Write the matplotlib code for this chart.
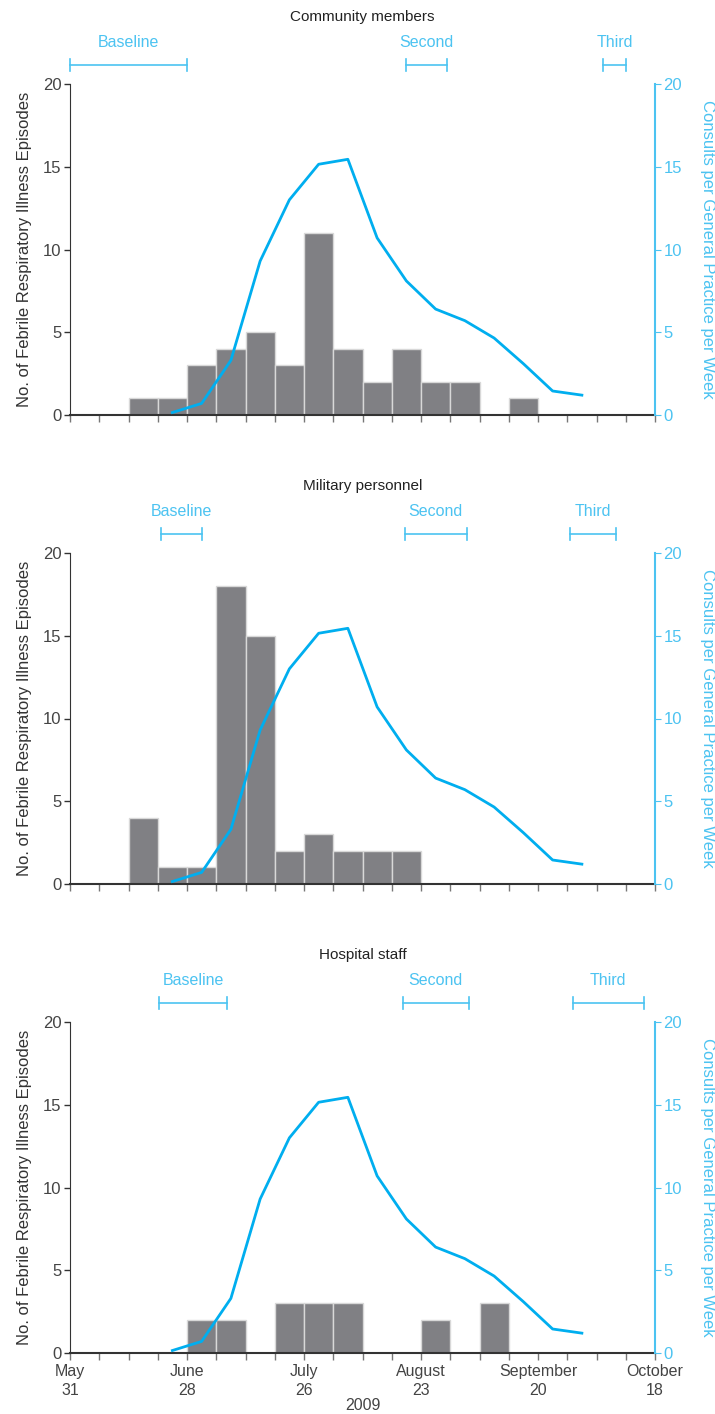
import numpy as np
import matplotlib
matplotlib.use("Agg")
import matplotlib.pyplot as plt
import matplotlib.transforms as mtransforms

plt.rcParams["font.family"] = ["Liberation Sans", "DejaVu Sans"]

# x positions are weeks since May 31, 2009
n_weeks = 20
tick_weeks = [0, 4, 8, 12, 16, 20]
tick_labels = ["May\n31", "June\n28", "July\n26", "August\n23", "September\n20", "October\n18"]

# febrile respiratory illness episodes per week (bar starts at week index)
community = [0, 0, 1, 1, 3, 4, 5, 3, 11, 4, 2, 4, 2, 2, 0, 1, 0, 0, 0, 0]
military = [0, 0, 4, 1, 1, 18, 15, 2, 3, 2, 2, 2, 0, 0, 0, 0, 0, 0, 0, 0]
hospital = [0, 0, 0, 0, 2, 2, 0, 3, 3, 3, 0, 0, 2, 0, 3, 0, 0, 0, 0, 0]

# GP consults per week (mid-week)
consult_weeks = [3.5, 4.5, 5.5, 6.5, 7.5, 8.5, 9.5, 10.5, 11.5, 12.5, 13.5, 14.5, 15.5, 16.5, 17.5]
consults = [0.15, 0.7, 3.3, 9.3, 13.0, 15.15, 15.45, 10.7, 8.1, 6.4, 5.7, 4.65, 3.1, 1.45, 1.2]

# serology windows (start week, end week)
community_windows = [(0.0, 4.0), (11.48, 12.88), (18.23, 19.01)]
military_windows = [(3.12, 4.51), (11.45, 13.56), (17.1, 18.67)]
hospital_windows = [(3.04, 5.38), (11.37, 13.64), (17.18, 19.62)]
window_names = ["Baseline", "Second", "Third"]

titles = ["Community members", "Military personnel", "Hospital staff"]

CYAN = "#00aeef"
CYAN_LT = "#4cc3f1"
BAR = "#808084"
DARK = "#333333"

fig = plt.figure(figsize=(7.15, 14.14), dpi=100)

left, width, height = 70 / 715, 585 / 715, 331 / 1414
bottoms = [1 - 415 / 1414, 1 - 884 / 1414, 1 - 1353 / 1414]

panels = [
    (community, community_windows),
    (military, military_windows),
    (hospital, hospital_windows),
]

for k, (counts, windows) in enumerate(panels):
    ax = fig.add_axes([left, bottoms[k], width, height])
    ax.bar(np.arange(n_weeks), counts, width=1.0, align="edge",
           color=BAR, edgecolor="#d8d8d8", linewidth=1.0, zorder=2)
    ax.set_xlim(0, n_weeks)
    ax.set_ylim(0, 20)
    ax.set_yticks([0, 5, 10, 15, 20])
    ax.set_xticks(np.arange(n_weeks + 1))
    ax.tick_params(axis="x", direction="out", length=5, color="#777777", width=1)
    ax.tick_params(axis="y", direction="out", length=4, color=DARK, width=1,
                   labelsize=12, labelcolor="#444444", pad=2)
    if k == 2:
        ax.set_xticks(tick_weeks, minor=False)
        ax.set_xticks(np.arange(n_weeks + 1), minor=True)
        ax.set_xticklabels(tick_labels, fontsize=11.5, color="#444444", linespacing=1.3)
        ax.tick_params(axis="x", which="both", direction="out", length=5,
                       color="#777777", width=1, pad=3)
        ax.text(0.5, -0.16, "2009", transform=ax.transAxes, ha="center", va="center",
                fontsize=11.5, color="#444444")
    else:
        ax.set_xticklabels([])
    for s in ["top", "right"]:
        ax.spines[s].set_visible(False)
    ax.spines["left"].set_color(DARK)
    ax.spines["bottom"].set_color(DARK)
    ax.spines["bottom"].set_linewidth(1.5)
    ax.set_ylabel("No. of Febrile Respiratory Illness Episodes", fontsize=12,
                  color=DARK, labelpad=8)

    ax2 = ax.twinx()
    ax2.plot(consult_weeks, consults, color=CYAN, linewidth=2, zorder=3)
    ax2.set_ylim(0, 20)
    ax2.set_yticks([0, 5, 10, 15, 20])
    ax2.tick_params(axis="y", direction="out", length=4, color=CYAN_LT,
                    labelsize=12, labelcolor=CYAN_LT, pad=2)
    for s in ["top", "left", "bottom"]:
        ax2.spines[s].set_visible(False)
    ax2.spines["right"].set_color(CYAN_LT)
    ax2.spines["right"].set_linewidth(1.5)
    ax2.set_ylabel("Consults per General Practice per Week", fontsize=12,
                   color=CYAN_LT, rotation=270, labelpad=24)

    ax.set_title(titles[k], fontsize=11, color="#222222", y=1.19, pad=0)

    # serology bracket markers above the plot
    trans = mtransforms.blended_transform_factory(ax.transData, ax.transAxes)
    yb = 1.057
    for (x0, x1), name in zip(windows, window_names):
        ax.plot([x0, x1], [yb, yb], color=CYAN_LT, lw=1.2, transform=trans, clip_on=False)
        for xe in (x0, x1):
            ax.plot([xe, xe], [yb - 0.018, yb + 0.018], color=CYAN_LT, lw=1.2,
                    transform=trans, clip_on=False)
        ax.text((x0 + x1) / 2, yb + 0.045, name, transform=trans, ha="center",
                va="bottom", fontsize=11.5, color=CYAN_LT)

fig.savefig("out.png", dpi=100)
